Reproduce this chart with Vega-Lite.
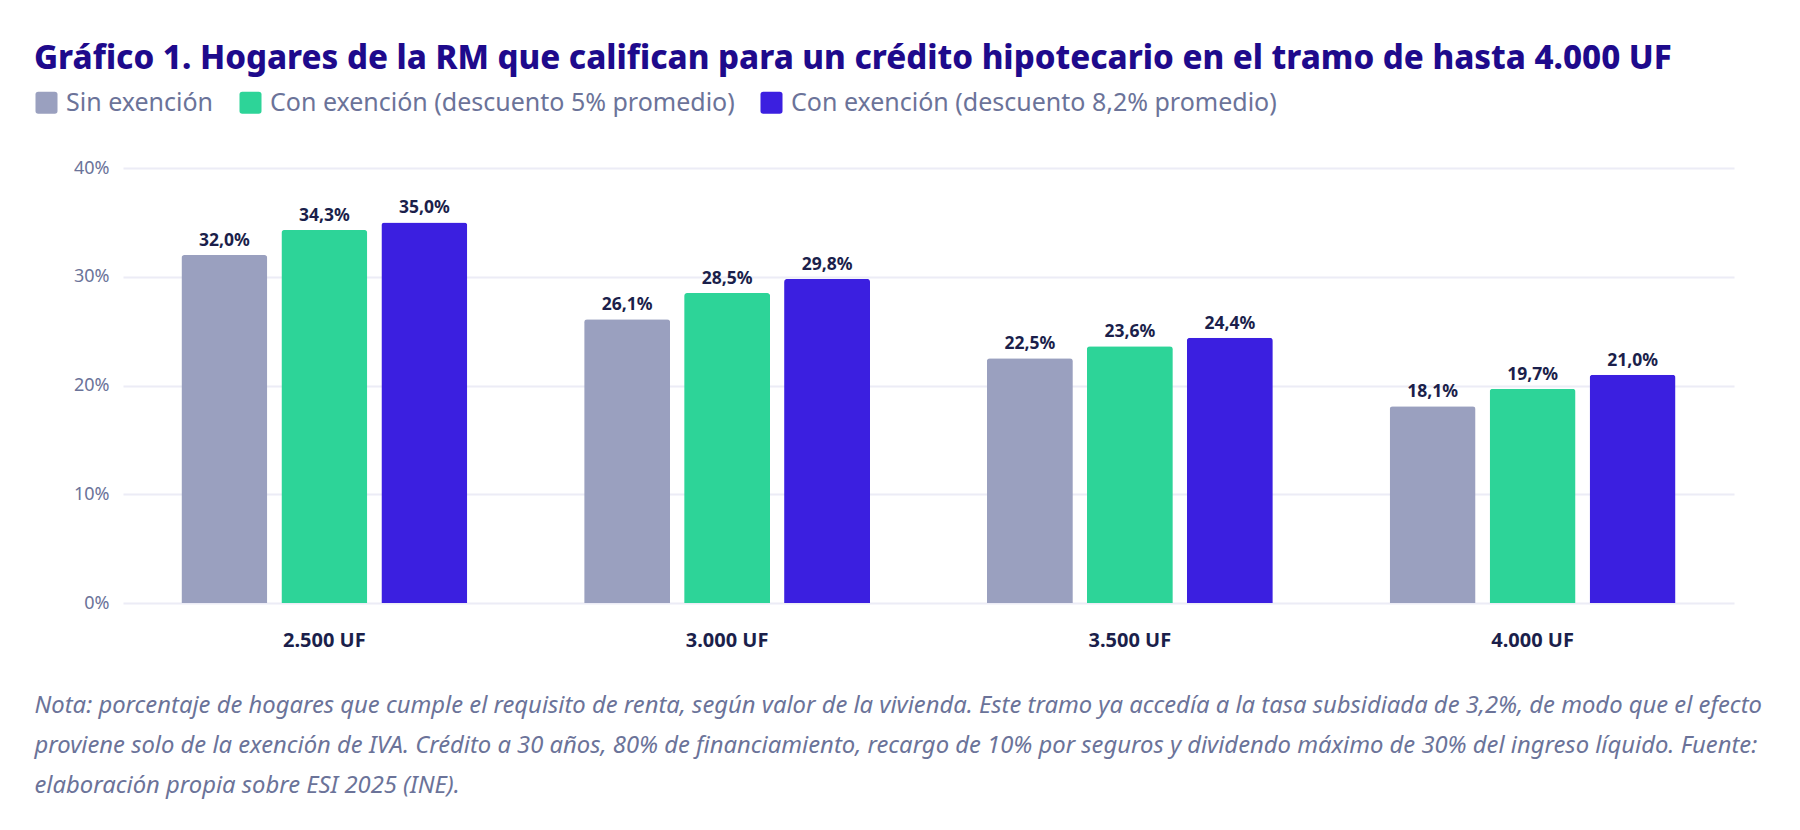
{
  "$schema": "https://vega.github.io/schema/vega-lite/v6.json",
  "autosize": "none",
  "width": 1611,
  "height": 435,
  "padding": {"left": 123, "top": 168, "right": 66, "bottom": 227},
  "background": "white",
  "title": {
    "text": "Gráfico 1. Hogares de la RM que califican para un crédito hipotecario en el tramo de hasta 4.000 UF",
    "anchor": "start",
    "frame": "group",
    "dx": -89,
    "offset": 14,
    "font": "Noto Sans",
    "fontSize": 33,
    "fontWeight": 800,
    "color": "#1e0a8c"
  },
  "data": {
    "values": [
      {"valor": "2.500 UF", "serie": "Sin exención", "pct": 0.320},
      {"valor": "2.500 UF", "serie": "Con exención (descuento 5% promedio)", "pct": 0.343},
      {"valor": "2.500 UF", "serie": "Con exención (descuento 8,2% promedio)", "pct": 0.350},
      {"valor": "3.000 UF", "serie": "Sin exención", "pct": 0.261},
      {"valor": "3.000 UF", "serie": "Con exención (descuento 5% promedio)", "pct": 0.285},
      {"valor": "3.000 UF", "serie": "Con exención (descuento 8,2% promedio)", "pct": 0.298},
      {"valor": "3.500 UF", "serie": "Sin exención", "pct": 0.225},
      {"valor": "3.500 UF", "serie": "Con exención (descuento 5% promedio)", "pct": 0.236},
      {"valor": "3.500 UF", "serie": "Con exención (descuento 8,2% promedio)", "pct": 0.244},
      {"valor": "4.000 UF", "serie": "Sin exención", "pct": 0.181},
      {"valor": "4.000 UF", "serie": "Con exención (descuento 5% promedio)", "pct": 0.197},
      {"valor": "4.000 UF", "serie": "Con exención (descuento 8,2% promedio)", "pct": 0.210}
    ]
  },
  "encoding": {
    "x": {
      "field": "valor",
      "type": "nominal",
      "sort": null,
      "scale": {"paddingInner": 0.29, "paddingOuter": 0.145},
      "axis": {
        "title": [
          "Nota: porcentaje de hogares que cumple el requisito de renta, según valor de la vivienda. Este tramo ya accedía a la tasa subsidiada de 3,2%, de modo que el efecto",
          "proviene solo de la exención de IVA. Crédito a 30 años, 80% de financiamiento, recargo de 10% por seguros y dividendo máximo de 30% del ingreso líquido. Fuente:",
          "elaboración propia sobre ESI 2025 (INE)."
        ],
        "titleAnchor": "start",
        "titleAlign": "left",
        "titleBaseline": "top",
        "titleX": -89,
        "titleY": 90,
        "titleFont": "Noto Sans",
        "titleFontSize": 23.8,
        "titleFontStyle": "italic",
        "titleFontWeight": "normal",
        "titleColor": "#6b7399",
        "titleLineHeight": 40,
        "labelAngle": 0,
        "labelFont": "Noto Sans",
        "labelFontSize": 20,
        "labelFontWeight": "bold",
        "labelColor": "#1b1f4b",
        "labelPadding": 27,
        "domain": false,
        "ticks": false,
        "grid": false
      }
    },
    "xOffset": {
      "field": "serie",
      "type": "nominal",
      "sort": ["Sin exención", "Con exención (descuento 5% promedio)", "Con exención (descuento 8,2% promedio)"],
      "scale": {"paddingInner": 0.14, "paddingOuter": 0}
    },
    "y": {
      "field": "pct",
      "type": "quantitative",
      "scale": {"domain": [0, 0.4]},
      "axis": {
        "title": null,
        "values": [0, 0.1, 0.2, 0.3, 0.4],
        "format": ".0%",
        "labelFont": "Noto Sans",
        "labelFontSize": 18,
        "labelColor": "#6b7399",
        "labelPadding": 14,
        "domain": false,
        "ticks": false,
        "gridColor": "#ececf6",
        "gridWidth": 2
      }
    }
  },
  "layer": [
    {
      "mark": {"type": "bar", "cornerRadiusTopLeft": 3, "cornerRadiusTopRight": 3},
      "encoding": {
        "color": {
          "field": "serie",
          "type": "nominal",
          "scale": {
            "domain": ["Sin exención", "Con exención (descuento 5% promedio)", "Con exención (descuento 8,2% promedio)"],
            "range": ["#9aa0bf", "#2dd498", "#3b1fe0"]
          },
          "legend": {
            "title": null,
            "orient": "none",
            "direction": "horizontal",
            "legendX": -89,
            "legendY": -78,
            "symbolType": "M-1,-0.75Q-1,-1,-0.75,-1L0.75,-1Q1,-1,1,-0.75L1,0.75Q1,1,0.75,1L-0.75,1Q-1,1,-1,0.75Z",
            "symbolSize": 484,
            "symbolStrokeWidth": 0,
            "symbolOpacity": 1,
            "labelFont": "Noto Sans",
            "labelFontSize": 25,
            "labelColor": "#6b7399",
            "labelOffset": 7,
            "labelLimit": 0,
            "columnPadding": 24
          }
        }
      }
    },
    {
      "mark": {
        "type": "text",
        "baseline": "bottom",
        "dy": -5,
        "font": "Noto Sans",
        "fontSize": 17.5,
        "fontWeight": "bold",
        "color": "#1b1f4b"
      },
      "encoding": {
        "text": {"field": "pct", "type": "quantitative", "format": ".1%"}
      }
    }
  ],
  "config": {
    "locale": {
      "number": {"decimal": ",", "thousands": ".", "grouping": [3], "currency": ["$", ""]}
    },
    "view": {"stroke": null}
  }
}
